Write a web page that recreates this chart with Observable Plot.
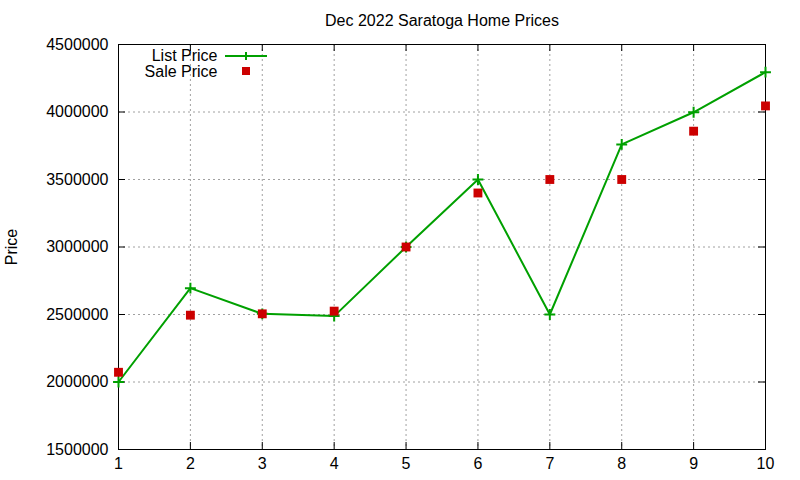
<!DOCTYPE html>
<html>
<head>
<meta charset="utf-8">
<script src="https://cdn.jsdelivr.net/npm/d3@7"></script>
<script src="https://cdn.jsdelivr.net/npm/@observablehq/plot@0.6"></script>
<style>
  body { margin: 0; background: #fff; }
</style>
</head>
<body>
<div id="chart"></div>
<script>
const title = "Dec 2022 Saratoga Home Prices";
const yLabel = "Price";
const seriesNames = ["List Price", "Sale Price"];
const homes = [1, 2, 3, 4, 5, 6, 7, 8, 9, 10];
const listPrice = [2000000, 2695000, 2505000, 2488000, 3000000, 3500000, 2500000, 3760000, 3998000, 4295000];
const salePrice = [2072000, 2495000, 2505000, 2525000, 3000000, 3400000, 3500000, 3500000, 3858000, 4045000];
const xTicks = [1, 2, 3, 4, 5, 6, 7, 8, 9, 10];
const yTicks = [1500000, 2000000, 2500000, 3000000, 3500000, 4000000, 4500000];

const data = homes.map((h, i) => ({home: h, list: listPrice[i], sale: salePrice[i]}));

const W = 800, H = 480, ml = 118, mr = 35, mt = 44, mb = 31;
const pw = W - ml - mr, ph = H - mt - mb;
const green = "#00a000", red = "#cc0000", gridColor = "#a0a0a0";

const chart = Plot.plot({
  width: W, height: H,
  marginLeft: ml, marginRight: mr, marginTop: mt, marginBottom: mb,
  style: {fontFamily: "'Liberation Sans', Arial, sans-serif", fontSize: "16px", background: "#fff", color: "#000"},
  x: {domain: [1, 10]},
  y: {domain: [1500000, 4500000]},
  marks: [
    Plot.ruleY(yTicks.slice(1, -1), {y: d => d, stroke: gridColor, strokeDasharray: "2,3", strokeWidth: 1}),
    Plot.ruleX(xTicks.slice(1, -1), {x: d => d, stroke: gridColor, strokeDasharray: "2,3", strokeWidth: 1}),
    Plot.frame({stroke: "#000", strokeWidth: 1}),
    Plot.tickY(yTicks, {y: d => d, insetRight: pw - 7, stroke: "#000"}),
    Plot.tickY(yTicks, {y: d => d, insetLeft: pw - 7, stroke: "#000"}),
    Plot.tickX(xTicks, {x: d => d, insetTop: ph - 7, stroke: "#000"}),
    Plot.tickX(xTicks, {x: d => d, insetBottom: ph - 7, stroke: "#000"}),
    Plot.axisY({ticks: yTicks, tickSize: 0, tickPadding: 10, tickFormat: d3.format("d"), label: null, fontSize: 16}),
    Plot.axisX({ticks: xTicks, tickSize: 0, tickPadding: 8, tickFormat: d3.format("d"), label: null, fontSize: 16}),
    Plot.line(data, {x: "home", y: "list", stroke: green, strokeWidth: 2}),
    Plot.dot(data, {x: "home", y: "list", symbol: "plus", stroke: green, r: 3.6, strokeWidth: 2}),
    Plot.dot(data, {x: "home", y: "sale", symbol: "square", fill: red, stroke: null, r: 5}),
    Plot.text([title], {frameAnchor: "top", lineAnchor: "middle", dy: -24, fontSize: 16}),
    Plot.text([yLabel], {frameAnchor: "left", textAnchor: "middle", lineAnchor: "middle", dx: -107, rotate: -90, fontSize: 16}),
    Plot.text([seriesNames[0]], {frameAnchor: "top-left", lineAnchor: "middle", dx: 99, dy: 11.5, textAnchor: "end", fontSize: 16}),
    Plot.text([seriesNames[1]], {frameAnchor: "top-left", lineAnchor: "middle", dx: 99, dy: 27.5, textAnchor: "end", fontSize: 16})
  ]
});

document.getElementById("chart").appendChild(chart);

// legend glyphs
const svg = d3.select(chart);
const g = svg.append("g");
const lx0 = ml + 107, lx1 = ml + 149, lxc = ml + 128, ly0 = mt + 12, ly1 = mt + 27;
g.append("line").attr("x1", lx0).attr("x2", lx1).attr("y1", ly0).attr("y2", ly0)
  .attr("stroke", green).attr("stroke-width", 2);
g.append("path").attr("d", `M${lxc - 4},${ly0}H${lxc + 4}M${lxc},${ly0 - 4}V${ly0 + 4}`)
  .attr("stroke", green).attr("stroke-width", 2).attr("fill", "none");
g.append("rect").attr("x", lxc - 4).attr("y", ly1 - 4).attr("width", 8).attr("height", 8).attr("fill", red);
</script>
</body>
</html>
